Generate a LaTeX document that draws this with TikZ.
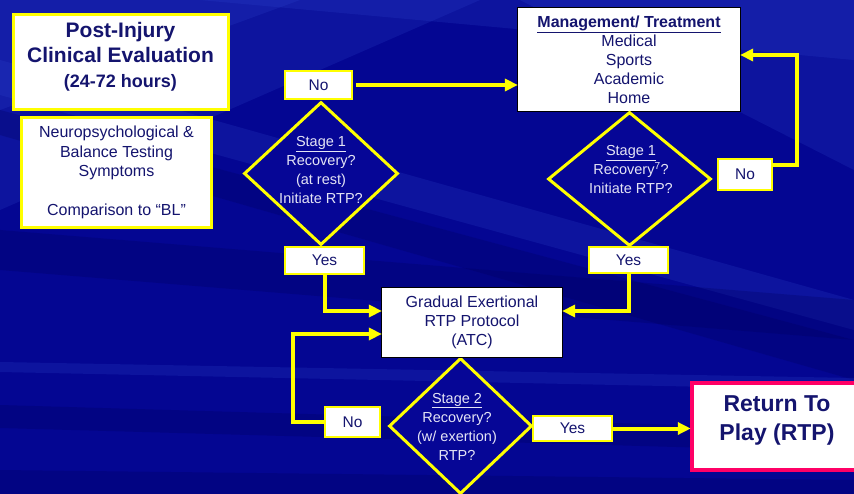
\documentclass[tikz,border=0pt]{standalone}
\usepackage{fontspec}
\setmainfont{Liberation Sans}
\usetikzlibrary{arrows.meta,shapes.geometric,calc}
\definecolor{navy}{RGB}{20,20,110}
\definecolor{bgbase}{RGB}{4,6,146}
\definecolor{bgdark}{RGB}{0,0,95}
\definecolor{bglight}{RGB}{45,70,205}
\definecolor{diafill}{RGB}{6,6,150}
\definecolor{ylw}{RGB}{255,255,0}
\definecolor{rtpred}{RGB}{255,0,102}
\definecolor{diatext}{RGB}{228,228,245}
\begin{document}
\begin{tikzpicture}[x=1pt,y=-1pt,
  ybox/.style={draw=ylw, line width=3pt, fill=white, inner sep=0pt},
  kbox/.style={draw=black, line width=1.2pt, fill=white, inner sep=0pt, text=navy, align=center,
    font=\fontsize{16}{19}\selectfont},
  lbl/.style={draw=ylw, line width=2pt, fill=white, inner sep=0pt, text=navy,
    font=\fontsize{15.5}{18}\selectfont},
  dia/.style={diamond, draw=ylw, line width=3pt, fill=diafill, inner sep=0pt},
  diatxt/.style={text=diatext, align=center, inner sep=0pt, font=\fontsize{14.5}{19}\selectfont},
  conn/.style={draw=ylw, line width=4pt},
  arr/.style={conn, -{Triangle[length=13pt,width=12pt]}, shorten >=-1pt},
  streakL/.style={fill=bglight, opacity=0.22},
  streakD/.style={fill=bgdark, opacity=0.28}]
\useasboundingbox (0,0) rectangle (854,494);
\begin{scope}
\clip (0,0) rectangle (854,494);
\fill[bgbase] (0,0) rectangle (854,494);
% background streaks
\path[streakL] (0,0) -- (480,0) -- (0,210) -- cycle;
\path[streakL] (0,0) -- (300,0) -- (0,110) -- cycle;
\path[streakL] (200,0) -- (854,0) -- (854,60) -- cycle;
\path[streakL] (520,0) -- (854,0) -- (854,170) -- cycle;
\path[streakL] (0,60) -- (854,300) -- (854,330) -- (0,95) -- cycle;
\path[streakD] (0,110) -- (854,340) -- (854,380) -- (0,135) -- cycle;
\path[streakD] (0,230) -- (854,300) -- (854,340) -- (0,270) -- cycle;
\path[streakL] (0,362) -- (854,378) -- (854,390) -- (0,372) -- cycle;
\path[streakD] (0,405) -- (854,430) -- (854,452) -- (0,428) -- cycle;
\path[streakD] (0,470) -- (854,480) -- (854,494) -- (0,494) -- cycle;
\end{scope}

% left boxes
\node[ybox, minimum width=215, minimum height=95] (eval) at (121,62) {};
\node[text=navy, align=center, inner sep=0pt, font=\bfseries\fontsize{21}{25}\selectfont] (evalT) at (120.5,56.5)
  {Post-Injury\\Clinical Evaluation\\{\fontsize{18}{25}\selectfont (24-72 hours)}};
\node[ybox, minimum width=190, minimum height=110, text=navy, align=center,
  font=\fontsize{16}{19.5}\selectfont] (tests) at (116.5,172.5)
  {Neuropsychological \&\\Balance Testing\\Symptoms\\[19.5pt]Comparison to “BL”};

% management
\node[kbox, minimum width=223, minimum height=104] (mgmt) at (629,59.5)
  {\textbf{\underline{Management/ Treatment}}\\Medical\\Sports\\Academic\\Home};

% diamonds
\node[dia, minimum width=154, minimum height=143] (d1) at (321,173.5) {};
\node[diatxt] (d1T) at (321,170.5) {\underline{Stage 1}\\Recovery?\\(at rest)\\Initiate RTP?};
\node[dia, minimum width=163, minimum height=134] (d2) at (629.5,179) {};
\node[diatxt] (d2T) at (631,169.5) {\underline{Stage 1}\\Recovery\textsuperscript{7}?\\Initiate RTP?};
\node[dia, minimum width=143, minimum height=136] (d3) at (460.5,426) {};
\node[diatxt] (d3T) at (457,426.5) {\underline{Stage 2}\\Recovery?\\(w/ exertion)\\RTP?};

% gradual
\node[kbox, minimum width=181, minimum height=70] (grad) at (472,322.5)
  {Gradual Exertional\\RTP Protocol\\(ATC)};

% label boxes
\node[lbl, minimum width=67, minimum height=28] (no1) at (318.5,85) {No};
\node[lbl, minimum width=79, minimum height=27] (yes1) at (324.5,260.5) {Yes};
\node[lbl, minimum width=54, minimum height=31] (no2) at (745,174.5) {No};
\node[lbl, minimum width=79, minimum height=26] (yes2) at (628.5,260) {Yes};
\node[lbl, minimum width=55, minimum height=30] (no3) at (352.5,422) {No};
\node[lbl, minimum width=79, minimum height=25] (yes3) at (572.5,428.5) {Yes};

% RTP
\node[draw=rtpred, line width=4.5pt, fill=white, minimum width=164, minimum height=87, inner sep=0pt] (rtp) at (774,426.5) {};
\node[text=navy, align=center, inner sep=0pt, font=\bfseries\fontsize{23}{29}\selectfont] (rtpT) at (777,420)
  {Return To\\Play (RTP)};

% connectors
\draw[arr] ($(no1.east)+(3,0)$) -- (mgmt.west |- no1.east);
\draw[arr] ($(no2.east)+(0,-9.5)$) -- ++(24,0) |- ($(mgmt.east)+(0,-4.5)$);
\draw[arr] (yes1.south) |- ($(grad.west)+(0,-11.5)$);
\draw[arr] (yes2.south) |- ($(grad.east)+(0,-11.5)$);
\draw[arr] (no3.west) -- ++(-31,0) |- ($(grad.west)+(0,11.5)$);
\draw[arr] (yes3.east) -- (rtp.west |- yes3.east);
\end{tikzpicture}
\end{document}
